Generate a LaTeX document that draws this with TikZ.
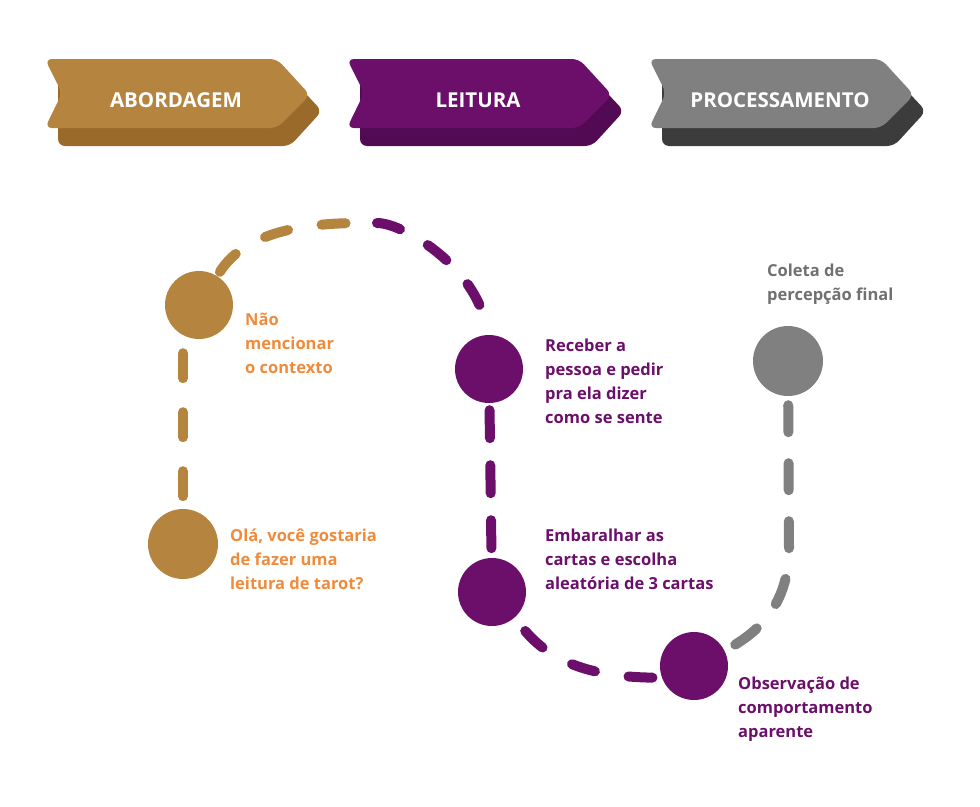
\documentclass[tikz,border=0pt]{standalone}
\usepackage{fontspec}
\setmainfont{Open Sans}
\usetikzlibrary{positioning}

\definecolor{ouro}{HTML}{B5853F}
\definecolor{ouroesc}{HTML}{9A6A2A}
\definecolor{roxo}{HTML}{6B0F6B}
\definecolor{roxoesc}{HTML}{520A52}
\definecolor{cinza}{HTML}{808080}
\definecolor{cinzaesc}{HTML}{3C3C3C}
\definecolor{laranja}{HTML}{EF8B3B}
\definecolor{cinzatxt}{HTML}{707070}

\begin{document}
\begin{tikzpicture}[
        x=1pt, y=-1pt, % coordenadas em pixels, eixo y para baixo
        etapa/.style={circle, minimum size=68pt, inner sep=0pt}, % bolinhas
        trilha/.style={line width=10pt, line cap=round, dash pattern=on 24pt off 34pt},
        rotulo/.style={anchor=west, align=left, inner sep=0pt, font=\fontsize{16.5}{24}\selectfont\bfseries},
        titulo/.style={text=white, font=\fontsize{20.5}{24}\selectfont\bfseries},
    ]
    \useasboundingbox (0,0) rectangle (980,806);

    % faixas do topo
    \foreach \dx/\cor/\sombra/\txt [count=\i] in {0/ouro/ouroesc/ABORDAGEM, 302/roxo/roxoesc/LEITURA, 604/cinza/cinzaesc/PROCESSAMENTO} {
        \begin{scope}[xshift=\dx]
            \fill[fill=\sombra, rounded corners=7pt] (58,77) -- (290,77) -- (322,111) -- (290,146) -- (58,146) -- cycle;
            \fill[fill=\cor, rounded corners=7pt] (45,59) -- (277,59) -- (310,95) -- (277,128) -- (45,128) -- (62,93) -- cycle;
            \node[titulo] (faixa\i) at (176,100) {\txt};
        \end{scope}
    }

    % etapas
    \node[etapa, fill=ouro, minimum size=70pt] (ola) at (183,544) {};
    \node[etapa, fill=ouro] (nao) at (199,305) {};
    \node[etapa, fill=roxo] (receber) at (489,369) {};
    \node[etapa, fill=roxo] (embaralhar) at (492,592) {};
    \node[etapa, fill=roxo] (observacao) at (694,666) {};
    \node[etapa, fill=cinza, minimum size=70pt] (coleta) at (788,361) {};

    % textos
    \node[rotulo, text=laranja] (t-ola) at (230,559) {Olá, você gostaria\\de fazer uma\\leitura de tarot?};
    \node[rotulo, text=laranja] (t-nao) at (245,343) {Não\\mencionar\\o contexto};
    \node[rotulo, text=roxo] (t-receber) at (545,381) {Receber a\\pessoa e pedir\\pra ela dizer\\como se sente};
    \node[rotulo, text=roxo] (t-embaralhar) at (545,559) {Embaralhar as\\cartas e escolha\\aleatória de 3 cartas};
    \node[rotulo, text=roxo] (t-observacao) at (738,709) {Observação de\\comportamento\\aparente};
    \node[rotulo, text=cinzatxt] (t-coleta) at (767,284) {Coleta de\\percepção final};

    % caminho tracejado
    \coordinate (c1) at (ola |- nao.south);
    \coordinate (topo) at (360,223);
    \coordinate (g1) at (789,548);
    \draw[trilha, ouro, dash pattern=on 25pt off 34pt, shorten <=14pt] (c1) -- (ola);
    \draw[trilha, ouro, shorten <=5pt] (nao) .. controls (240,240) and (285,223) .. (topo);
    \draw[trilha, roxo, shorten <=17pt, dash pattern=on 24pt off 32pt] (topo) .. controls (405,223) and (483,272) .. (receber);
    \draw[trilha, roxo, dash pattern=on 28pt off 27pt, shorten <=7pt, shorten >=7pt] (receber) -- (embaralhar);
    \draw[trilha, roxo, shorten <=17pt] (embaralhar) .. controls (555,666) and (600,678) .. (observacao.200);
    \draw[trilha, cinza, dash pattern=on 27pt off 31pt, shorten <=9pt] (coleta) -- (g1) .. controls (789,598) and (765,630) .. (observacao);
\end{tikzpicture}
\end{document}
